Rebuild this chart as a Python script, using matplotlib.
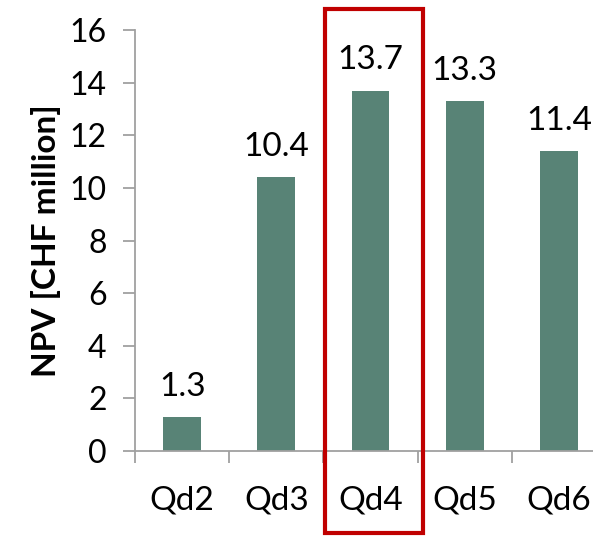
import matplotlib
matplotlib.use("Agg")
import matplotlib.pyplot as plt
from matplotlib.patches import Rectangle
from matplotlib.transforms import blended_transform_factory

categories = ["Qd2", "Qd3", "Qd4", "Qd5", "Qd6"]
npv = [1.3, 10.4, 13.7, 13.3, 11.4]
yticks = [0, 2, 4, 6, 8, 10, 12, 14, 16]
highlight = "Qd4"

plt.rcParams["font.family"] = ["Lato", "DejaVu Sans"]

fig = plt.figure(figsize=(5.93, 5.37), dpi=100)
ax = fig.add_axes([0.2277, 0.1601, 0.7943, 0.784])

x = list(range(len(categories)))
ax.bar(x, npv, width=0.4, color="#588376", zorder=2)

for xi, v in zip(x, npv):
    ax.annotate(f"{v:.1f}", (xi, v), xytext=(0, 11), textcoords="offset points",
                ha="center", va="bottom", fontsize=24, color="black")

ax.set_xlim(-0.5, len(categories) - 0.5)
ax.set_ylim(0, 16)
ax.set_yticks(yticks)
ax.set_yticklabels([str(t) for t in yticks], fontsize=23)
ax.set_xticks(x)
ax.set_xticklabels(categories, fontsize=24)
ax.set_xticks([i - 0.5 for i in range(len(categories) + 1)], minor=True)

grey = "#A0A0A0"
for s in ["top", "right"]:
    ax.spines[s].set_visible(False)
for s in ["left", "bottom"]:
    ax.spines[s].set_color(grey)
    ax.spines[s].set_linewidth(1.3)

ax.tick_params(axis="y", direction="out", length=8.5, width=1.3, color=grey, pad=12)
ax.tick_params(axis="x", which="major", length=0, pad=25)
ax.tick_params(axis="x", which="minor", direction="out", length=8.5, width=1.3, color=grey)

ax.set_ylabel("NPV [CHF million]", fontsize=24, fontweight="bold", labelpad=6)

# highlight box around the selected option
hi = categories.index(highlight)
trans = blended_transform_factory(ax.transData, fig.transFigure)
rect = Rectangle((hi - 0.48, 0.0075), 1.04, 0.976, transform=trans, fill=False,
                 edgecolor="#C00000", linewidth=3, clip_on=False, zorder=5)
fig.add_artist(rect)

fig.savefig("out.png", dpi=100)
